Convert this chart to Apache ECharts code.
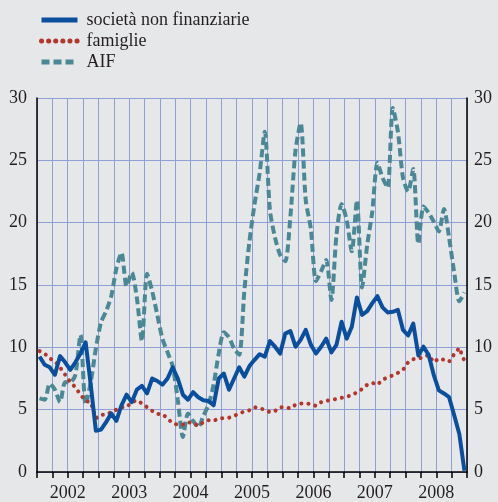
<!DOCTYPE html>
<html>
<head>
<meta charset="utf-8">
<script src="https://cdn.jsdelivr.net/npm/echarts@6/dist/echarts.min.js"></script>
<style>
html, body { margin: 0; padding: 0; background: #e6e7e9; }
#container { width: 498px; height: 502px; }
</style>
</head>
<body>
<div id="container"></div>
<script>
// mesi da gen 2002 a dic 2008, etichette anni
var years = ['2002', '2003', '2004', '2005', '2006', '2007', '2008'];
var yTicks = [0, 5, 10, 15, 20, 25, 30];

// società non finanziarie
var societa = [
	9.25, 8.6, 8.4, 7.8, 9.3, 8.8, 8.2, 8.8, 9.5, 10.4, 7.0, 3.3,
	3.4, 4.0, 4.7, 4.1, 5.35, 6.2, 5.6, 6.6, 6.9, 6.3, 7.5, 7.3,
	7.0, 7.5, 8.4, 7.5, 6.2, 5.8, 6.4, 6.0, 5.75, 5.7, 5.35, 7.5,
	7.9, 6.6, 7.5, 8.4, 7.65, 8.5, 9.0, 9.45, 9.25, 10.5, 10.05, 9.5,
	11.1, 11.3, 10.05, 10.6, 11.4, 10.2, 9.5, 10.05, 10.7, 9.6, 10.2, 12.05,
	10.7, 11.65, 14.0, 12.6, 12.9, 13.55, 14.1, 13.2, 12.8, 12.85, 13.0, 11.4,
	10.95, 11.9, 9.35, 10.05, 9.4, 7.8, 6.55, 6.3, 6.0, 4.55, 3.05, 0.1
];

// famiglie
var famiglie = [
	9.7, 9.5, 9.1, 8.9, 8.4, 7.8, 7.2, 6.8, 6.2, 5.7, 5.6, 4.3,
	4.6, 4.6, 4.8, 5.0, 5.2, 5.2, 5.6, 5.75, 5.5, 5.2, 4.9, 4.65,
	4.65, 4.3, 3.9, 3.8, 3.8, 4.0, 3.9, 3.7, 4.0, 4.15, 4.1, 4.3,
	4.33, 4.35, 4.5, 4.7, 4.85, 4.95, 5.2, 5.1, 5.0, 4.8, 4.9, 5.2,
	5.2, 5.1, 5.4, 5.5, 5.5, 5.45, 5.3, 5.6, 5.7, 5.8, 5.85, 5.95,
	6.05, 6.15, 6.4, 6.65, 7.0, 7.15, 7.0, 7.4, 7.6, 7.75, 7.95, 8.2,
	8.8, 9.05, 9.1, 9.2, 9.4, 8.8, 9.1, 9.0, 8.85, 9.45, 9.95, 8.9
];

// AIF
var aif = [
	5.9, 5.8, 7.1, 6.6, 5.6, 7.2, 7.2, 7.8, 11.0, 5.4, 7.2, 9.9,
	12.0, 12.9, 14.1, 16.3, 17.6, 14.9, 16.0, 14.0, 10.5, 15.9, 14.5, 12.6,
	10.7, 9.6, 8.5, 5.8, 2.8, 4.7, 4.1, 3.6, 4.5, 5.4, 7.0, 9.5,
	11.2, 10.8, 9.9, 9.4, 14.5, 18.5, 21.5, 24.0, 27.3, 21.0, 18.8, 17.4,
	16.9, 20.5, 25.8, 28.0, 21.8, 19.5, 15.3, 16.1, 17.0, 13.8, 19.0, 21.5,
	20.2, 17.7, 21.8, 14.8, 18.2, 20.9, 24.8, 23.6, 22.8, 29.2, 27.3, 23.6,
	22.5, 24.3, 18.3, 21.3, 20.8, 20.1, 19.3, 21.1, 18.8, 16.0, 13.7, 14.4
];

function toPoints(arr){
	var out = [];
	for(var i = 0;i<arr.length;i++){
		out.push([i + 0.5, arr[i]]);	// punto a metà mese
	}
	return out;
}

var gridColor = '#8d9fd6';
var txt = '#231f20';
var font = 'Liberation Serif';

var myChart = echarts.init(document.getElementById('container'));
myChart.setOption({
	backgroundColor: '#e6e7e9',
	animation: false,
	textStyle: { fontFamily: font },
	legend: {
		orient: 'vertical',
		left: 34,
		top: 6,
		itemWidth: 36,
		itemHeight: 12,
		itemGap: 3,
		itemStyle: { opacity: 0 },
		lineStyle: { width: 5 },
		textStyle: { fontFamily: font, fontSize: 18, color: txt, padding: [0, 0, 0, 4] },
		data: ['società non finanziarie', 'famiglie', 'AIF']
	},
	grid: { left: 37, right: 31, top: 98, bottom: 30 },
	xAxis: {
		type: 'value',
		min: 0,
		max: years.length * 12,
		interval: 3,
		axisLine: { show: true, lineStyle: { color: '#000', width: 1.5 } },
		axisTick: { show: true, length: 6, lineStyle: { color: '#000', width: 1.5 } },
		axisLabel: {
			fontFamily: font, fontSize: 18, color: txt, margin: 12,
			showMinLabel: true, showMaxLabel: true,
			formatter: function(v){
				if(v % 12 === 6){
					return years[(v - 6) / 12];
				}
				return '';
			}
		},
		splitLine: { show: true, lineStyle: { color: gridColor, width: 1 } }
	},
	yAxis: [
		{
			type: 'value', min: yTicks[0], max: yTicks[yTicks.length - 1], interval: 5,
			axisLine: { show: true, lineStyle: { color: '#000', width: 1.5 } },
			axisTick: { show: false },
			axisLabel: { fontFamily: font, fontSize: 18, color: txt, margin: 10 },
			splitLine: { show: true, lineStyle: { color: gridColor, width: 1 } }
		},
		{
			type: 'value', min: yTicks[0], max: yTicks[yTicks.length - 1], interval: 5,
			position: 'right',
			axisLine: { show: true, lineStyle: { color: '#000', width: 1.5 } },
			axisTick: { show: false },
			axisLabel: { fontFamily: font, fontSize: 18, color: txt, margin: 7 },
			splitLine: { show: false }
		}
	],
	series: [
		{
			name: 'AIF',
			type: 'line',
			data: toPoints(aif),
			symbol: 'none',
			smooth: 0.25,
			z: 2,
			itemStyle: { color: '#4a8896' },
			lineStyle: { color: '#4a8896', width: 4, type: [8, 4] }
		},
		{
			name: 'famiglie',
			type: 'line',
			data: toPoints(famiglie),
			symbol: 'none',
			z: 3,
			itemStyle: { color: '#b3362c' },
			lineStyle: { color: '#b3362c', width: 4, type: [0.1, 7], cap: 'round' }
		},
		{
			name: 'società non finanziarie',
			type: 'line',
			data: toPoints(societa),
			symbol: 'none',
			z: 4,
			itemStyle: { color: '#0a4f9e' },
			lineStyle: { color: '#0a4f9e', width: 4, join: 'round' }
		}
	]
});
</script>
</body>
</html>
